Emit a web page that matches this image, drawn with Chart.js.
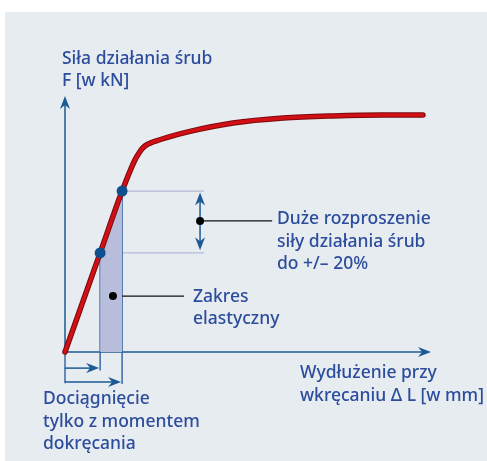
<!DOCTYPE html>
<html>
<head>
<meta charset="utf-8">
<script src="https://cdn.jsdelivr.net/npm/chart.js@4/dist/chart.umd.min.js"></script>
<style>
  html, body { margin: 0; padding: 0; background: #ffffff; }
  #wrap { width: 487px; height: 461px; position: relative; }
</style>
</head>
<body>
<div id="wrap"><canvas id="myChart" width="487" height="461"></canvas></div>
<script>
// krzywa sila / wydluzenie (jednostki umowne, F = 100 na koncu)
const wydluzenie = [0, 0.96, 1.56, 1.91, 2.04, 2.13, 2.25, 2.40, 2.80, 3.33, 4.59, 5.96, 7.32, 8.69, 9.78]
const sila = [0, 41.8, 67.9, 81.0, 84.4, 86.2, 87.6, 88.6, 90.6, 92.8, 96.6, 98.7, 99.6, 100, 100]

// punkty dociagniecia (min / max)
const punktyX = [0.96, 1.56]
const punktyY = [41.8, 67.9]

// zakres osi
const osX = [0, 10]
const osY = [0, 108]

const tekstKolor = "#2c4c9c"
const osKolor = "#1c5a96"

var ctx = document.getElementById("myChart").getContext("2d")

const tlo = {
    id: "tlo",
    beforeDraw(chart) {
        const c = chart.ctx
        c.save()
        c.fillStyle = "#e7ecf1"
        c.fillRect(5, 12, chart.width - 5, chart.height - 12)
        c.restore()
    }
}

function strzalka(c, x1, y1, x2, y2, kolor) {
    const kat = Math.atan2(y2 - y1, x2 - x1)
    c.strokeStyle = kolor
    c.fillStyle = kolor
    c.lineWidth = 1.5
    c.beginPath()
    c.moveTo(x1, y1)
    c.lineTo(x2 - 6 * Math.cos(kat), y2 - 6 * Math.sin(kat))
    c.stroke()
    c.beginPath()
    c.moveTo(x2, y2)
    c.lineTo(x2 - 13 * Math.cos(kat) + 5 * Math.sin(kat), y2 - 13 * Math.sin(kat) - 5 * Math.cos(kat))
    c.lineTo(x2 - 9 * Math.cos(kat), y2 - 9 * Math.sin(kat))
    c.lineTo(x2 - 13 * Math.cos(kat) - 5 * Math.sin(kat), y2 - 13 * Math.sin(kat) + 5 * Math.cos(kat))
    c.closePath()
    c.fill()
}

const opisy = {
    id: "opisy",
    beforeDatasetsDraw(chart) {
        const c = chart.ctx
        const sx = chart.scales.x, sy = chart.scales.y
        const px = v => sx.getPixelForValue(v), py = v => sy.getPixelForValue(v)
        c.save()
        // osie
        strzalka(c, px(0), py(0), px(0), py(osY[1]), osKolor)
        strzalka(c, px(0), py(0), px(osX[1]), py(0), osKolor)
        // linie poziome rozrzutu
        c.strokeStyle = "#b4bad9"
        c.lineWidth = 1.2
        c.beginPath()
        c.moveTo(px(punktyX[1]), py(punktyY[1])); c.lineTo(px(3.80), py(punktyY[1]))
        c.moveTo(px(punktyX[1]), py(punktyY[0])); c.lineTo(px(3.80), py(punktyY[0]))
        c.stroke()
        // pionowe linie i strzalki pod osia
        c.strokeStyle = "#3a68a6"
        c.lineWidth = 1.5
        c.beginPath()
        c.moveTo(px(punktyX[0]), py(punktyY[0])); c.lineTo(px(punktyX[0]), py(-7.8))
        c.moveTo(px(punktyX[1]), py(punktyY[1])); c.lineTo(px(punktyX[1]), py(-13.5))
        c.moveTo(px(0), py(0)); c.lineTo(px(0), py(-13.2))
        c.stroke()
        strzalka(c, px(0), py(-6.8), px(punktyX[0]) - 1, py(-6.8), osKolor)
        strzalka(c, px(0), py(-12.7), px(punktyX[1]) - 1, py(-12.7), osKolor)
        // podwojna strzalka
        const xs = px(3.69), ym = py(55.3)
        strzalka(c, xs, ym, xs, py(67.3), osKolor)
        strzalka(c, xs, ym, xs, py(42.9), osKolor)
        // linie odnosnikow
        c.strokeStyle = "#111111"
        c.lineWidth = 1.2
        c.beginPath()
        c.moveTo(xs, ym); c.lineTo(px(5.66), ym)
        c.moveTo(px(1.31), py(23.6)); c.lineTo(px(3.25), py(23.6))
        c.stroke()
        c.restore()
    },
    afterDatasetsDraw(chart) {
        const c = chart.ctx
        const sx = chart.scales.x, sy = chart.scales.y
        c.save()
        c.fillStyle = "#000000"
        c.beginPath()
        c.arc(sx.getPixelForValue(3.69), sy.getPixelForValue(55.3), 4, 0, Math.PI * 2)
        c.arc(sx.getPixelForValue(1.31), sy.getPixelForValue(23.6), 4, 0, Math.PI * 2)
        c.fill()
        c.fillStyle = tekstKolor
        c.font = "500 17.5px 'Noto Sans'"
        c.textBaseline = "middle"
        const teksty = [
            ["Siła działania śrub", 62, 59], ["F [w kN]", 62, 81],
            ["Duże rozproszenie", 277, 219], ["siły działania śrub", 277, 242], ["do +/\u2013 20%", 277, 264],
            ["Zakres", 193, 297], ["elastyczny", 193, 319],
            ["Wydłużenie przy", 300, 373], ["wkręcaniu \u0394 L [w mm]", 300, 396],
            ["Dociągnięcie", 43, 399], ["tylko z momentem", 43, 422], ["dokręcania", 43, 444]
        ]
        teksty.forEach(function(t) { c.fillText(t[0], t[1], t[2]) })
        c.restore()
    }
}

const pxX = 36.6, pxY = 2.37
const data = {
    datasets: [
        {
            label: "punkty",
            data: punktyX.map((x, i) => ({x: x, y: punktyY[i]})),
            showLine: false,
            pointRadius: 5.5,
            pointBackgroundColor: "#0e4f8d",
            pointBorderWidth: 0,
            order: 0
        },
        {
            label: "krzywa",
            data: wydluzenie.map((x, i) => ({x: x, y: sila[i]})),
            borderColor: "#d10f14",
            borderWidth: 3.5,
            pointRadius: 0,
            cubicInterpolationMode: "monotone",
            borderCapStyle: "round",
            order: 1
        },
        {
            label: "krzywa-obrys",
            data: wydluzenie.map((x, i) => ({x: x, y: sila[i]})),
            borderColor: "#7a0a0c",
            borderWidth: 5.5,
            pointRadius: 0,
            cubicInterpolationMode: "monotone",
            borderCapStyle: "round",
            order: 2
        },
        {
            label: "zakres",
            data: punktyX.map((x, i) => ({x: x, y: punktyY[i]})),
            borderWidth: 0,
            pointRadius: 0,
            fill: "origin",
            backgroundColor: "#b8bddb",
            order: 3
        }
    ]
}

const config = {
    type: "line",
    data: data,
    options: {
        responsive: false,
        animation: false,
        layout: { padding: 0, autoPadding: false },
        plugins: { legend: { display: false }, tooltip: { enabled: false } },
        scales: {
            x: { type: "linear", display: false, min: -65 / pxX, max: (487 - 65) / pxX },
            y: { type: "linear", display: false, min: -(461 - 352) / pxY, max: 352 / pxY }
        }
    },
    plugins: [tlo, opisy]
}

var myChart = new Chart(ctx, config)
</script>
</body>
</html>
